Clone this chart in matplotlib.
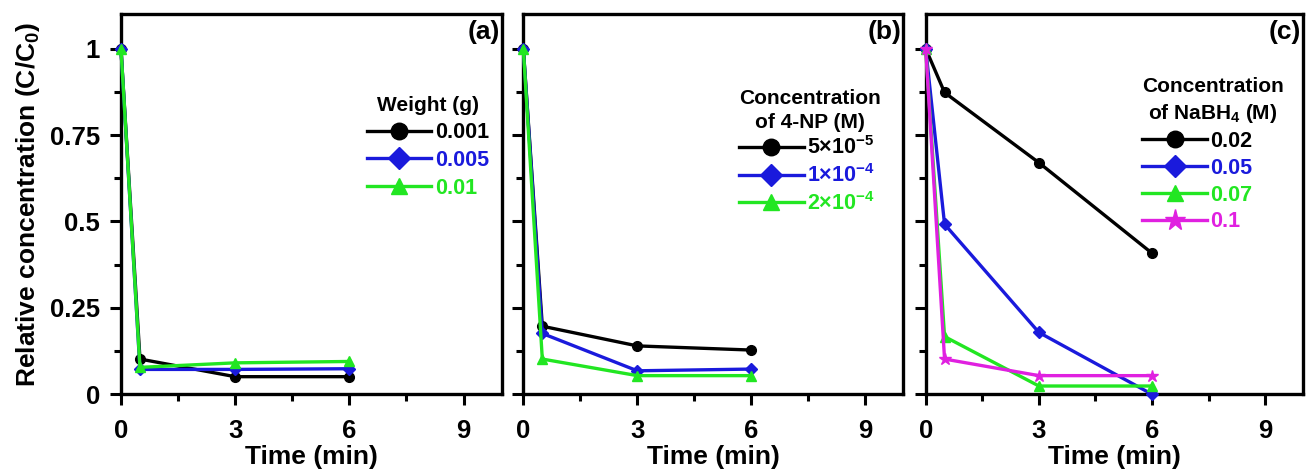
import numpy as np
import matplotlib
matplotlib.use('Agg')
import matplotlib.pyplot as plt

plt.rcParams['font.family'] = ['Liberation Sans', 'DejaVu Sans']
plt.rcParams['font.weight'] = 'bold'
plt.rcParams['mathtext.fontset'] = 'custom'
plt.rcParams['mathtext.rm'] = 'Liberation Sans:bold'
plt.rcParams['mathtext.bf'] = 'Liberation Sans:bold'
plt.rcParams['mathtext.it'] = 'Liberation Sans:bold'

# data
time = [0, 0.5, 3, 6]

# (a) weight of catalyst
weight_labels = ['0.001', '0.005', '0.01']
w_001 = [1, 0.102, 0.051, 0.051]
w_005 = [1, 0.072, 0.072, 0.074]
w_01 = [1, 0.078, 0.091, 0.095]

# (b) concentration of 4-NP
np_labels = [r'5$\times$10$^{-5}$', r'1$\times$10$^{-4}$', r'2$\times$10$^{-4}$']
np_5e5 = [1, 0.197, 0.140, 0.128]
np_1e4 = [1, 0.176, 0.068, 0.073]
np_2e4 = [1, 0.102, 0.054, 0.054]

# (c) concentration of NaBH4
nabh_labels = ['0.02', '0.05', '0.07', '0.1']
nb_002 = [1, 0.873, 0.670, 0.408]
nb_005 = [1, 0.492, 0.179, 0.0]
nb_007 = [1, 0.167, 0.024, 0.024]
nb_01 = [1, 0.102, 0.054, 0.054]

colors = ['#000000', '#1a1adc', '#22e622', '#e020e0']
markers = ['o', 'D', '^', '*']
msizes = [7, 6.5, 7, 9]

fig = plt.figure(figsize=(13.06, 4.72), dpi=100)
ax1 = fig.add_axes([0.0926, 0.1646, 0.2915, 0.8057])
ax2 = fig.add_axes([0.4007, 0.1646, 0.2910, 0.8057])
ax3 = fig.add_axes([0.7088, 0.1646, 0.2889, 0.8057])

panels = [
    (ax1, [w_001, w_005, w_01], weight_labels, 'Weight (g)', '(a)', (0.646, 0.784), 'center', 0.32),
    (ax2, [np_5e5, np_1e4, np_2e4], np_labels, 'Concentration\nof 4-NP (M)', '(b)', (0.568, 0.804), 'left', 0.22),
    (ax3, [nb_002, nb_005, nb_007, nb_01], nabh_labels,
     'Concentration\nof NaBH$_4$ (M)', '(c)', (0.574, 0.834), 'left', 0.27),
]

for ax, series, labels, title, tag, anchor, align, lsp in panels:
    for i, ys in enumerate(series):
        ax.plot(time, ys, color=colors[i], marker=markers[i], ms=msizes[i],
                lw=2.4, label=labels[i], clip_on=False, zorder=3)
    ax.set_xlim(0, 10)
    ax.set_ylim(0, 1.1)
    ax.set_xticks([0, 3, 6, 9])
    ax.set_xticks([1.5, 4.5, 7.5], minor=True)
    ax.set_yticks([0, 0.25, 0.5, 0.75, 1])
    ax.set_yticks([0.125, 0.375, 0.625, 0.875], minor=True)
    ax.tick_params(which='major', direction='out', length=8, width=2.2,
                   labelsize=18.5, pad=7)
    ax.tick_params(axis='x', which='major', pad=10)
    ax.tick_params(which='minor', direction='out', length=5, width=2.2)
    for sp in ax.spines.values():
        sp.set_linewidth(2.4)
    ax.set_xlabel('Time (min)', fontsize=19, fontweight='bold', labelpad=1)
    ax.text(0.995, 0.985, tag, transform=ax.transAxes, ha='right', va='top',
            fontsize=19, fontweight='bold')
    leg = ax.legend(loc='upper left', bbox_to_anchor=anchor, frameon=False,
                    title=title, markerscale=1.7, handlelength=3.0,
                    handletextpad=0.15, labelspacing=lsp, borderpad=0,
                    borderaxespad=0, alignment=align,
                    prop={'size': 15.5, 'weight': 'bold'},
                    title_fontproperties={'size': 15, 'weight': 'bold'})
    leg.get_title().set_multialignment('center')
    leg.get_title().set_linespacing(1.35)
    for txt, c in zip(leg.get_texts(), colors):
        txt.set_color(c)

ax1.set_yticklabels(['0', '0.25', '0.5', '0.75', '1'])
ax1.set_ylabel('Relative concentration (C/C$_0$)', fontsize=19,
               fontweight='bold', labelpad=6)
ax2.set_yticklabels([])
ax3.set_yticklabels([])

fig.savefig('out.png', dpi=100)
